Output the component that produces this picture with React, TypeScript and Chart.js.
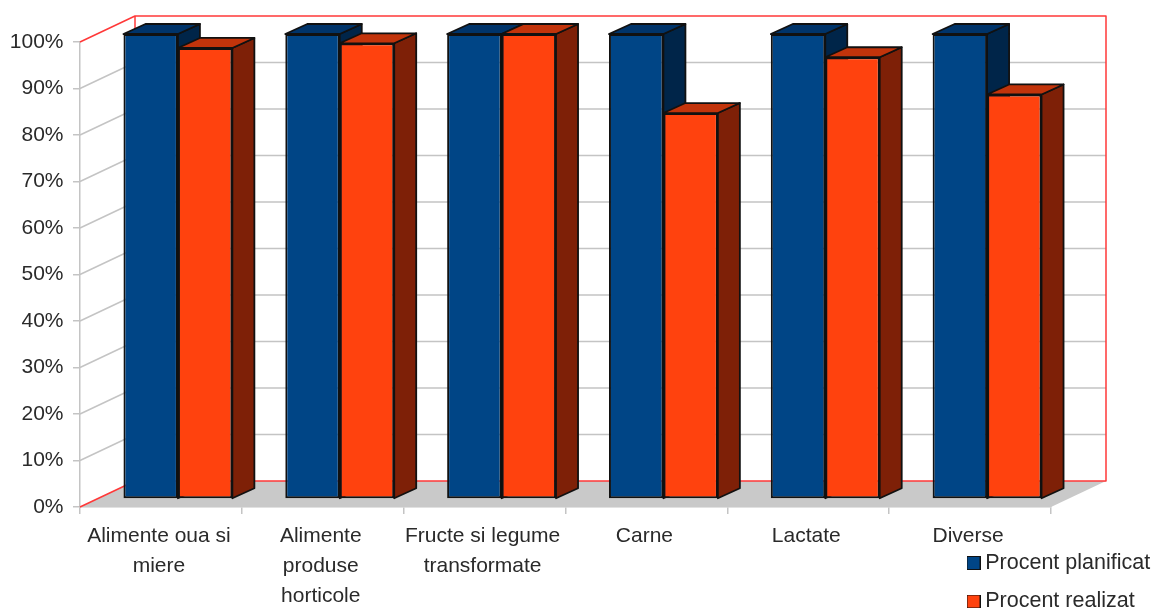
import React, { useEffect, useRef } from "react";
import { Chart, registerables } from "chart.js";

Chart.register(...registerables);

const categories = [
  ["Alimente oua si", "miere"],
  ["Alimente", "produse", "horticole"],
  ["Fructe si legume", "transformate"],
  ["Carne"],
  ["Lactate"],
  ["Diverse"],
];
const seriesNames = ["Procent planificat", "Procent realizat"];
const planned = [100, 100, 100, 100, 100, 100];
const realized = [97, 98, 100, 83, 95, 87];

const frontColors = ["#004586", "#ff420e"];
const topColors = ["#00346a", "#c2340b"];
const sideColors = ["#002549", "#7e2007"];
const GRID = "#c4c4c4";
const RED = "#ff3838";
const FONT = "'Liberation Sans', Arial, sans-serif";
const TEXT = "#2a2a2a";

const WALL = { dx: 55, dy: -26 };
const BAR_SHIFT = { dx: 17, dy: -8 };
const BAR_DEPTH = { dx: 22, dy: -10 };

function poly(ctx: CanvasRenderingContext2D, pts: number[][], fill: string | null, stroke: string | null, lw = 1.8) {
  ctx.beginPath();
  pts.forEach((p, i) => (i ? ctx.lineTo(p[0], p[1]) : ctx.moveTo(p[0], p[1])));
  if (fill) {
    ctx.closePath();
    ctx.fillStyle = fill;
    ctx.fill();
  }
  if (stroke) {
    ctx.strokeStyle = stroke;
    ctx.lineWidth = lw;
    ctx.lineJoin = "round";
    ctx.stroke();
  }
}

const wallPlugin = {
  id: "wall3d",
  afterLayout(chart: any) {
    const lg = chart.legend;
    if (lg) {
      const p = lg.options.labels.padding;
      lg.left = 972.5 - p;
      lg.right = 1152;
      lg.top = 563 - 10.75 - p;
      lg.bottom = 660;
      lg.width = lg.right - lg.left;
      lg.height = lg.bottom - lg.top;
    }
  },
  beforeDatasetsDraw(chart: any) {
    const { ctx, chartArea: a, scales } = chart;
    const y = scales.y;
    const bottom = y.getPixelForValue(0);
    const top = y.getPixelForValue(100);
    const { dx, dy } = WALL;
    ctx.save();
    poly(ctx, [[a.left, bottom], [a.right, bottom], [a.right + dx, bottom + dy], [a.left + dx, bottom + dy]], "#c9c9c9", null);
    y.ticks.forEach((t: any) => {
      if (t.value === 0 || t.value === 100) return;
      const py = y.getPixelForValue(t.value);
      poly(ctx, [[a.left, py], [a.left + dx, py + dy], [a.right + dx, py + dy]], null, GRID, 1.5);
    });
    poly(ctx, [[a.left, top], [a.left + dx, top + dy], [a.right + dx, top + dy], [a.right + dx, bottom + dy], [a.left + dx, bottom + dy], [a.left, bottom]], null, RED, 1.5);
    poly(ctx, [[a.left + dx, top + dy], [a.left + dx, bottom + dy]], null, RED, 1.5);
    ctx.restore();

    ctx.save();
    ctx.translate(BAR_SHIFT.dx, BAR_SHIFT.dy);
    const d = BAR_DEPTH;
    [0, 1].forEach((di) => {
      chart.getDatasetMeta(di).data.forEach((bar: any) => {
        const { x, y: ty, base, width } = bar.getProps(["x", "y", "base", "width"], true);
        const l = x - width / 2;
        const r = x + width / 2;
        poly(ctx, [[r, ty], [r + d.dx, ty + d.dy], [r + d.dx, base + d.dy], [r, base]], sideColors[di], "#111");
        poly(ctx, [[l, ty], [l + d.dx, ty + d.dy], [r + d.dx, ty + d.dy], [r, ty]], topColors[di], "#111");
      });
    });
  },
  afterDatasetsDraw(chart: any) {
    chart.ctx.restore();
  },
};

function swatch(color: string) {
  const c = document.createElement("canvas");
  c.width = 14;
  c.height = 14;
  const x = c.getContext("2d")!;
  x.fillStyle = color;
  x.fillRect(1, 1, 12, 12);
  x.strokeStyle = "#111";
  x.lineWidth = 1;
  x.strokeRect(0.5, 0.5, 13, 13);
  return c;
}

export default function App() {
  const ref = useRef<HTMLCanvasElement>(null);
  useEffect(() => {
    const swatches = frontColors.map(swatch);
    const chart = new Chart(ref.current!, {
      type: "bar",
      data: {
        labels: categories,
        datasets: [planned, realized].map((values, i) => ({
          label: seriesNames[i],
          data: values,
          backgroundColor: frontColors[i],
          borderColor: "#111",
          borderWidth: 2,
          borderSkipped: false,
          inflateAmount: 0,
          categoryPercentage: 0.673,
          barPercentage: 1,
          clip: false,
        })),
      },
      options: {
        animation: false,
        responsive: false,
        devicePixelRatio: 1,
        layout: { padding: { top: 42, right: 101, left: 0, bottom: 0 } },
        scales: {
          x: {
            grid: { drawOnChartArea: false, drawTicks: true, tickLength: 7, color: GRID, lineWidth: 1.5 },
            border: { color: GRID, width: 1.5 },
            afterFit: (s: any) => { s.height = 101; },
            ticks: {
              maxRotation: 0,
              autoSkip: false,
              padding: 7,
              labelOffset: -2,
              color: TEXT,
              font: { family: FONT, size: 21, lineHeight: 30 / 21 },
            },
          },
          y: {
            min: 0,
            max: 100,
            grid: { drawOnChartArea: false, tickLength: 7, color: GRID, lineWidth: 1.5 },
            border: { color: GRID, width: 1.5 },
            afterFit: (s: any) => { s.width = 80; },
            ticks: {
              stepSize: 10,
              padding: 9.5,
              color: TEXT,
              font: { family: FONT, size: 21 },
              callback: (v: any) => v + "%",
            },
          },
        },
        plugins: {
          title: { display: false },
          tooltip: { enabled: false },
          legend: {
            position: "chartArea",
            align: "start",
            labels: {
              usePointStyle: true,
              boxWidth: 2,
              pointStyleWidth: 2,
              padding: 17,
              color: TEXT,
              font: { family: FONT, size: 21.5 },
              generateLabels: () =>
                seriesNames.map((text, i) => ({
                  text,
                  fillStyle: frontColors[i],
                  strokeStyle: "#111",
                  lineWidth: 1,
                  pointStyle: swatches[i],
                  datasetIndex: i,
                  fontColor: TEXT,
                })),
            },
          },
        },
      } as any,
      plugins: [wallPlugin],
    });
    return () => chart.destroy();
  }, []);
  return (
    <canvas
      ref={ref}
      width={1152}
      height={608}
      style={{ position: "absolute", left: 0, top: 0, display: "block", width: 1152, height: 608 }}
    />
  );
}
